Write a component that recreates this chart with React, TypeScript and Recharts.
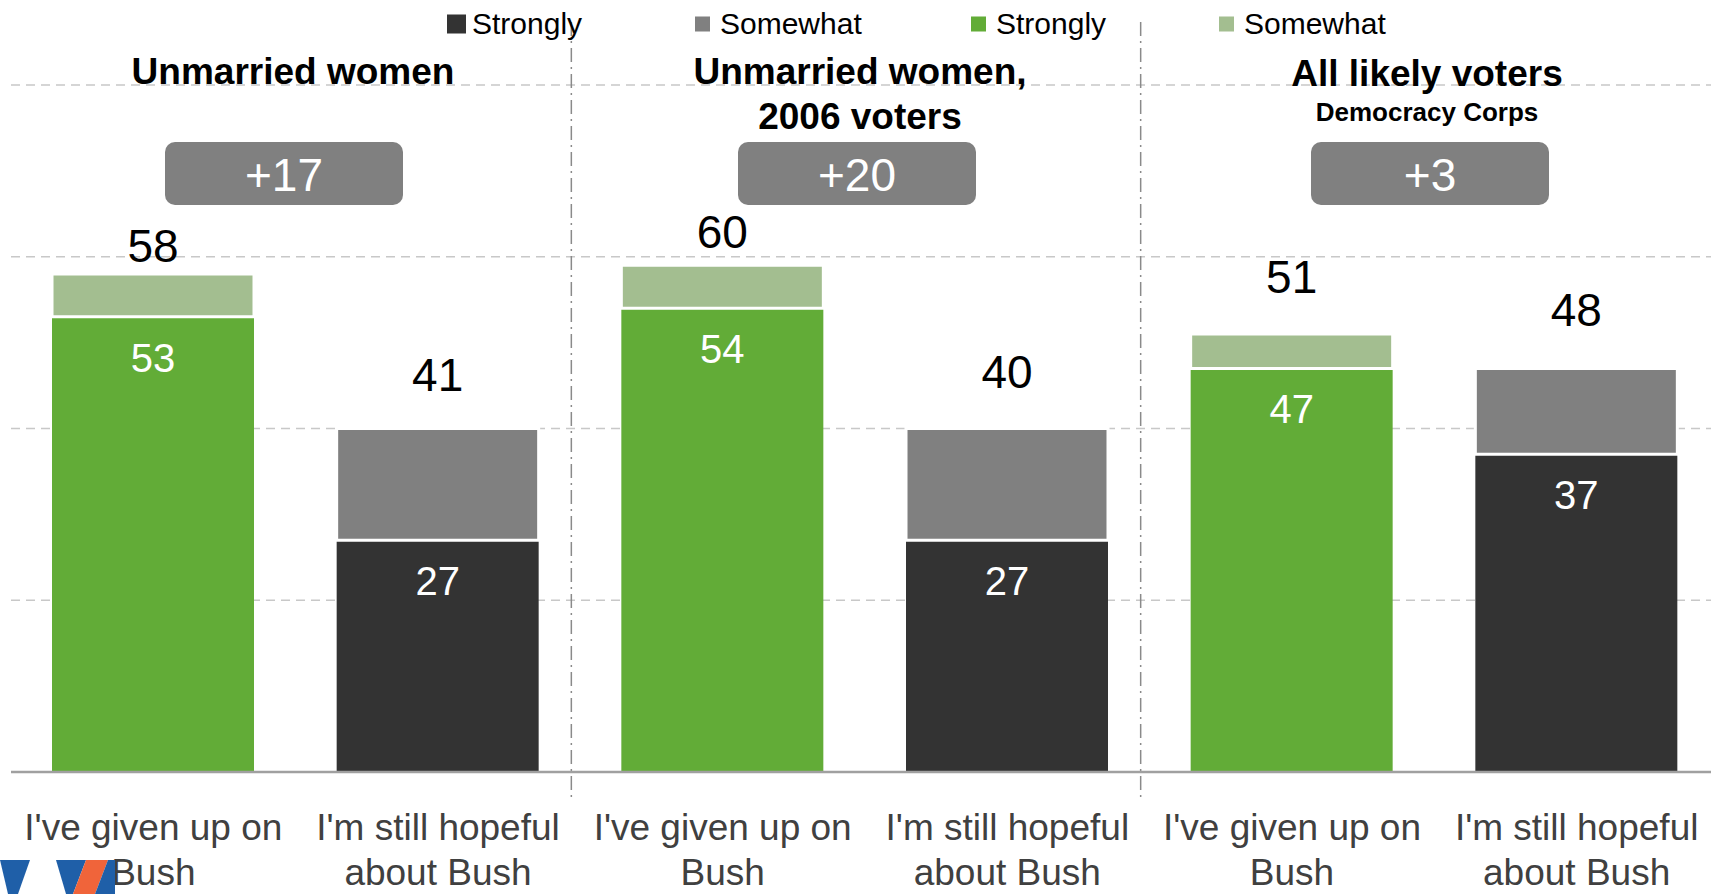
import { BarChart, Bar, XAxis, YAxis, CartesianGrid, Legend, LabelList, ReferenceLine } from 'recharts'

// survey groups and the two answers shown for each
const groupTitles = [['Unmarried women'], ['Unmarried women,', '2006 voters'], ['All likely voters']]
const groupSubtitles = ['', '', 'Democracy Corps']
const netLabels = ['+17', '+20', '+3']
const answerLabels = [["I've given up on", 'Bush'], ["I'm still hopeful", 'about Bush']]

const givenUpStrongly = [53, 54, 47]
const givenUpSomewhat = [5, 5, 4]
const givenUpTotal = [58, 60, 51]
const hopefulStrongly = [27, 27, 37]
const hopefulSomewhat = [13, 13, 10]
const hopefulTotal = [41, 40, 48]

const yTicks = [0, 20, 40, 60, 80]

const FONT = '"Liberation Sans", Arial, sans-serif'
const DARK = '#333333'
const GRAY = '#808080'
const GREEN = '#62ac37'
const LIGHT_GREEN = '#a3be90'

// layout tweaks (pixels), not data
const upLift = [12, 17, 41]
const hopeLift = [38, 41, 42]
const titleX = [293, 860, 1427]
const titleY = [84, 84, 86]
const boxX = [284, 857, 1430]
const legendOrder = ['hopeStrong', 'hopeSome', 'upStrong', 'upSome']
const legendX = [447, 695, 971, 1219]

const rows = groupTitles.flatMap((_, g) => [
  {
    key: `up${g}`,
    answer: 0,
    hopeStrong: 0,
    hopeSome: 0,
    upStrong: givenUpStrongly[g],
    upSome: givenUpSomewhat[g],
    upTotal: givenUpTotal[g],
  },
  {
    key: `hope${g}`,
    answer: 1,
    hopeStrong: hopefulStrongly[g],
    hopeSome: hopefulSomewhat[g],
    upStrong: 0,
    upSome: 0,
    hopeTotal: hopefulTotal[g],
  },
])

function AnswerTick(props: any) {
  const { x, y, payload } = props
  const row = rows.find((r) => r.key === payload.value)
  const lines = answerLabels[row ? row.answer : 0]
  return (
    <g>
      {lines.map((l, i) => (
        <text
          key={i}
          x={x}
          y={y + 68 + i * 45}
          textAnchor="middle"
          fontFamily={FONT}
          fontSize={37}
          fill="#404040"
        >
          {l}
        </text>
      ))}
    </g>
  )
}

const innerLabel = (props: any) => {
  const { x, y, width, value } = props
  if (!value) return null
  return (
    <text x={x + width / 2} y={y + 55} textAnchor="middle" fontFamily={FONT} fontSize={40} fill="#fff">
      {value}
    </text>
  )
}

// index counts only the bars actually drawn in that series
const totalLabel = (lifts: number[]) => (props: any) => {
  const { x, y, width, value, index } = props
  if (value == null) return null
  return (
    <text
      x={x + width / 2}
      y={y - (lifts[index] ?? 30)}
      textAnchor="middle"
      fontFamily={FONT}
      fontSize={46}
      fill="#000"
    >
      {value}
    </text>
  )
}

const renderLegend = (props: any) => {
  const { payload } = props
  return (
    <svg width={1711} height={50}>
      {legendOrder.map((k, i) => {
        const p = payload.find((e: any) => e.dataKey === k)
        if (!p) return null
        const s = i === 0 ? 19 : 15
        return (
          <g key={k}>
            <rect x={legendX[i]} y={24 - s / 2} width={s} height={s} fill={p.color} />
            <text x={legendX[i] + 25} y={34} fontFamily={FONT} fontSize={30} fill="#000">
              {p.value}
            </text>
          </g>
        )
      })}
    </svg>
  )
}

const divider = (props: any) => (
  <line
    x1={props.x1 - 9}
    x2={props.x2 - 9}
    y1={22}
    y2={798}
    stroke="#8a8a8a"
    strokeWidth={1.5}
    strokeDasharray="14 5 2 5"
  />
)

export default function App() {
  return (
    <div style={{ position: 'absolute', left: 0, top: 0, width: 1711, height: 894, overflow: 'hidden', background: '#fff' }}>
      <BarChart width={1719} height={894} data={rows} margin={{ top: 85, right: 0, bottom: 0, left: 11 }}>
        <CartesianGrid vertical={false} stroke="#c8c8c8" strokeDasharray="9 6" strokeWidth={1.5} />
        <YAxis hide domain={[0, 80]} ticks={yTicks} />
        <XAxis
          dataKey="key"
          height={122}
          tickLine={false}
          tickSize={0}
          tickMargin={0}
          interval={0}
          axisLine={{ stroke: '#a0a0a0', strokeWidth: 2.5 }}
          tick={<AnswerTick />}
        />
        <Legend
          layout="horizontal"
          verticalAlign="middle"
          align="center"
          content={renderLegend}
          wrapperStyle={{ position: 'absolute', top: 0, left: 0, width: 1711, height: 50 }}
        />
        <ReferenceLine x="hope0" position="end" shape={divider} />
        <ReferenceLine x="hope1" position="end" shape={divider} />
        <Bar dataKey="hopeStrong" name="Strongly" stackId="a" fill={DARK} barSize={202} isAnimationActive={false}>
          <LabelList dataKey="hopeStrong" content={innerLabel} />
        </Bar>
        <Bar
          dataKey="hopeSome"
          name="Somewhat"
          stackId="a"
          fill={GRAY}
          stroke="#fff"
          strokeWidth={3}
          barSize={202}
          isAnimationActive={false}
        >
          <LabelList dataKey="hopeTotal" content={totalLabel(hopeLift)} />
        </Bar>
        <Bar dataKey="upStrong" name="Strongly" stackId="a" fill={GREEN} barSize={202} isAnimationActive={false}>
          <LabelList dataKey="upStrong" content={innerLabel} />
        </Bar>
        <Bar
          dataKey="upSome"
          name="Somewhat"
          stackId="a"
          fill={LIGHT_GREEN}
          stroke="#fff"
          strokeWidth={3}
          barSize={202}
          isAnimationActive={false}
        >
          <LabelList dataKey="upTotal" content={totalLabel(upLift)} />
        </Bar>
      </BarChart>

      <svg
        width={1711}
        height={894}
        style={{ position: 'absolute', left: 0, top: 0, pointerEvents: 'none' }}
        fontFamily={FONT}
      >
        {groupTitles.map((lines, g) => (
          <g key={g}>
            {lines.map((l, i) => (
              <text key={i} x={titleX[g]} y={titleY[g] + i * 45} textAnchor="middle" fontSize={37} fontWeight="bold" fill="#000">
                {l}
              </text>
            ))}
            {groupSubtitles[g] && (
              <text x={titleX[g]} y={121} textAnchor="middle" fontSize={26} fontWeight="bold" fill="#000">
                {groupSubtitles[g]}
              </text>
            )}
            <rect x={boxX[g] - 119} y={142} width={238} height={63} rx={10} fill={GRAY} />
            <text x={boxX[g]} y={191} textAnchor="middle" fontSize={46} fill="#fff">
              {netLabels[g]}
            </text>
          </g>
        ))}
        {/* partial logo at bottom left */}
        <polygon points="0,860 30,860 18,894 8,894" fill="#1f5fa8" />
        <polygon points="56,860 86,860 73,894 66,894" fill="#1f5fa8" />
        <polygon points="86,860 108,860 95,894 73,894" fill="#f0643a" />
        <polygon points="108,860 115,860 115,894 95,894" fill="#1f5fa8" />
      </svg>
    </div>
  )
}
